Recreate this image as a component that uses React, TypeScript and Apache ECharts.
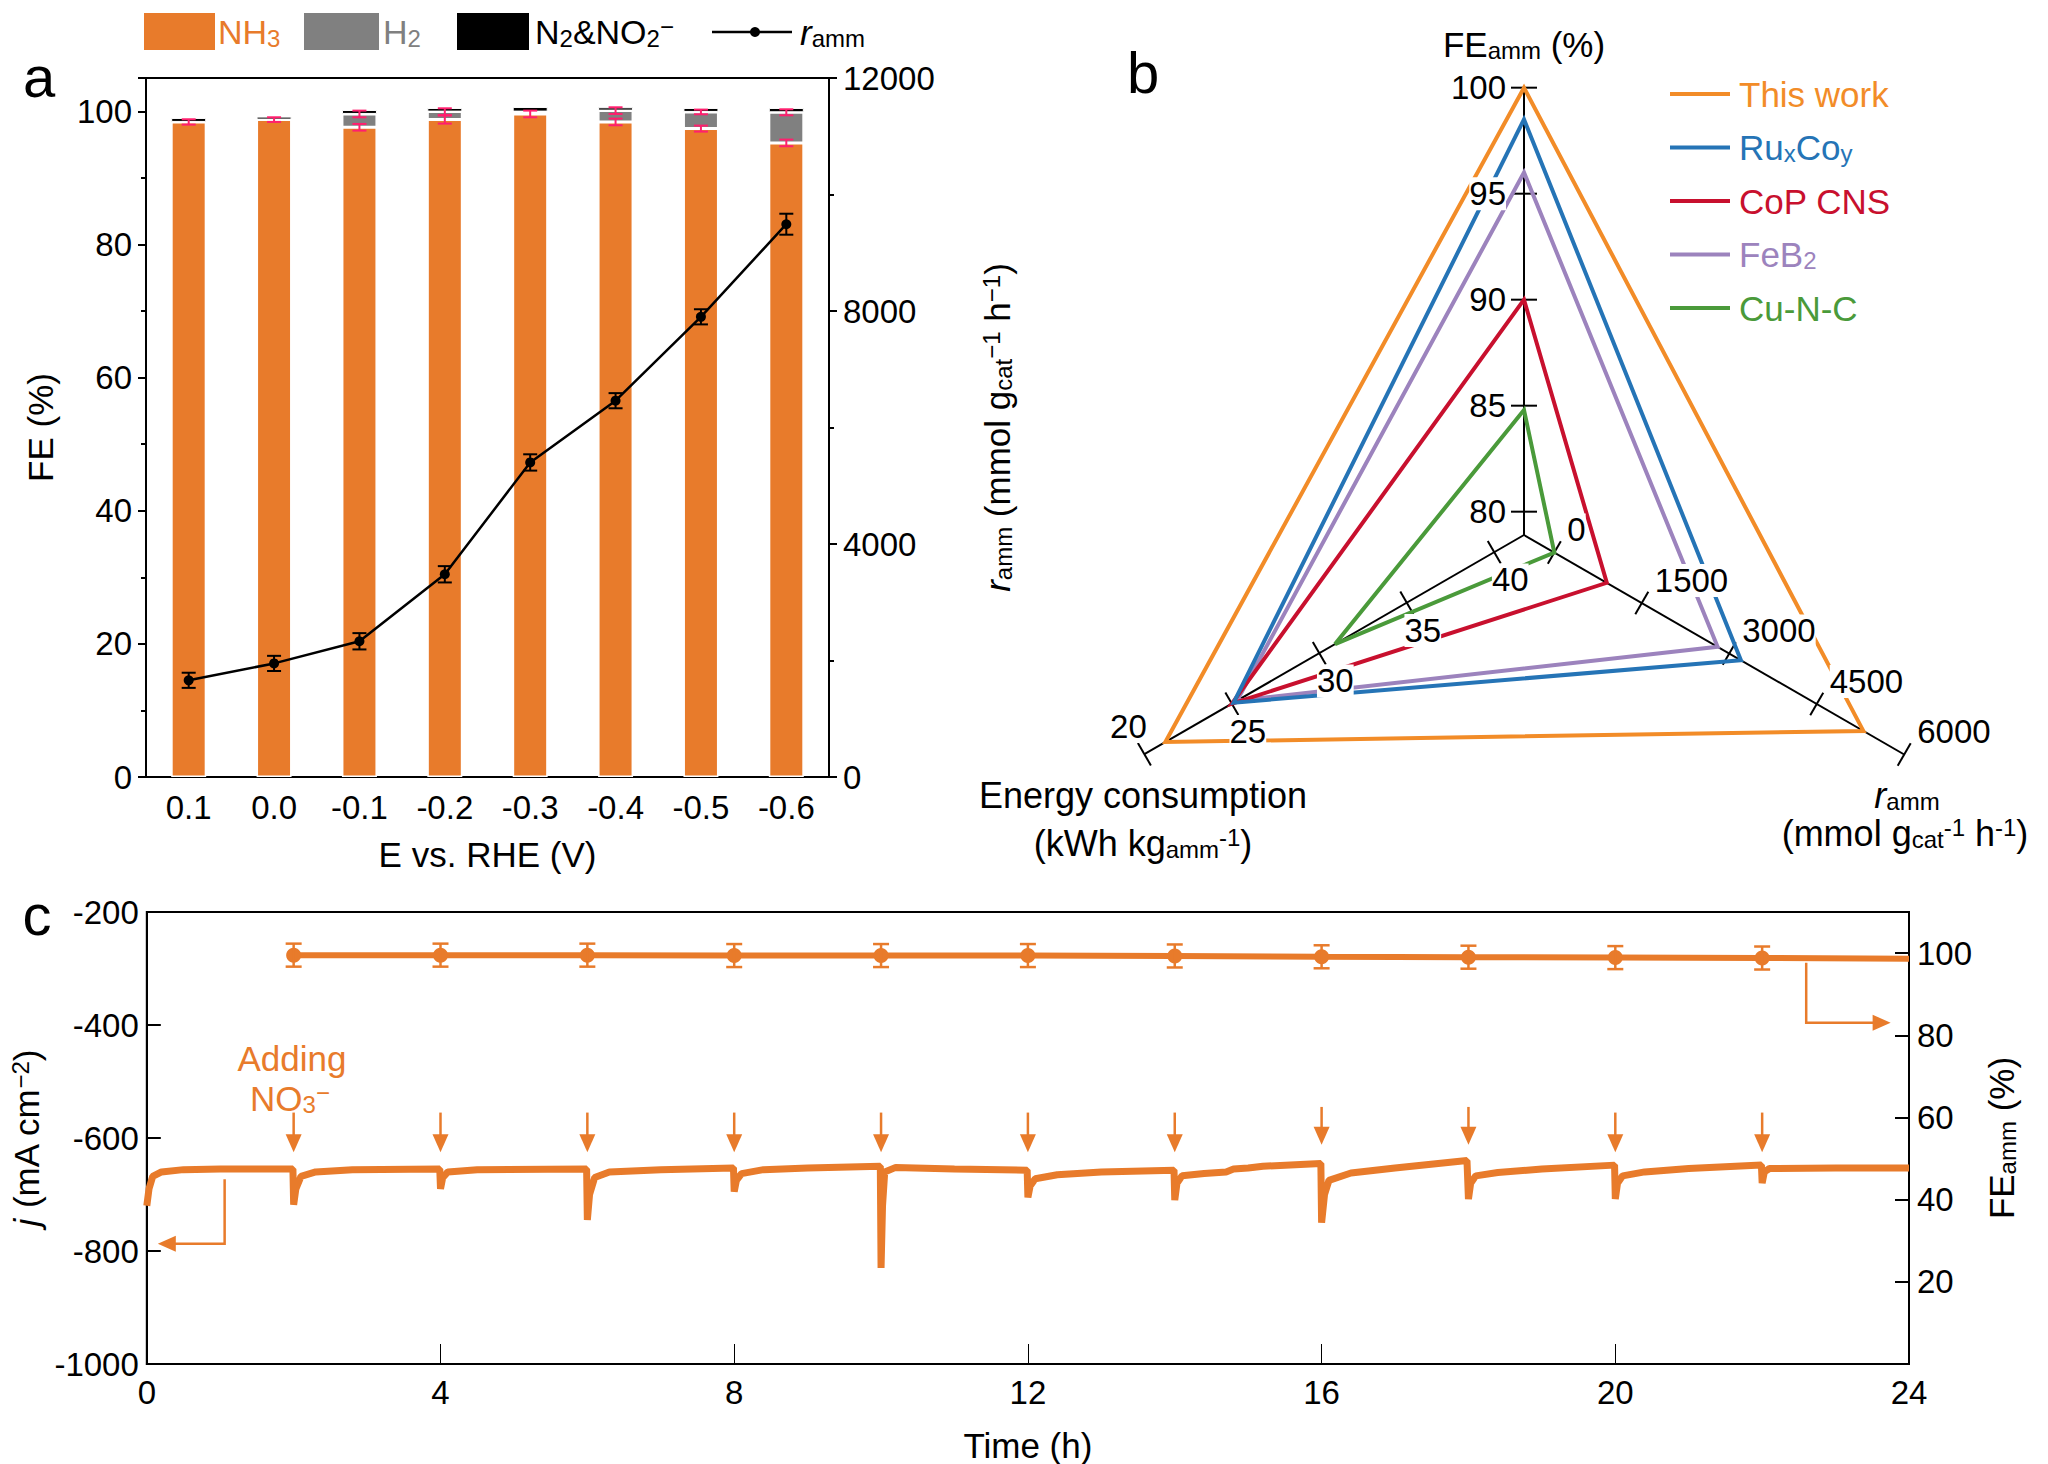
import { useEffect, useRef } from "react";
import * as echarts from "echarts";

const FONT = "Liberation Sans, Arial, sans-serif";
const ORANGE = "#E87B2B";

// panel a
const potentials = ["0.1", "0.0", "-0.1", "-0.2", "-0.3", "-0.4", "-0.5", "-0.6"];
const feNH3 = [98.4, 98.75, 97.6, 98.75, 99.6, 98.4, 97.4, 95.25];
const feH2 = [0, 0, 2.0, 1.2, 0.35, 1.7, 2.5, 4.6];
const feN2 = [0.6, 0.45, 0.6, 0.55, 0.7, 0.5, 0.6, 0.65];
const feNH3Err = [0.4, 0.35, 0.5, 0.6, 0.5, 0.5, 0.45, 0.5];
const feH2Err = [0, 0, 0.5, 0.5, 0, 0.5, 0.35, 0.45];
const rateAmm = [1660, 1950, 2330, 3480, 5400, 6460, 7900, 9490];
const rateErr = [130, 130, 140, 140, 140, 130, 130, 180];

// panel b
const catalysts = ["This work", "RuxCoy", "CoP CNS", "FeB2", "Cu-N-C"];
const catColors = ["#F28C28", "#2574B6", "#C8102E", "#9C83BD", "#4A9A3A"];
const radarFE = [100, 98.5, 90, 96, 84.8];
const radarEnergy = [21.2, 25.1, 25.0, 25.3, 30.9];
const radarRate = [5300, 3200, 900, 2800, 0];
const feTicks = [80, 85, 90, 95, 100];
const energyTicks = [40, 35, 30, 25, 20];
const rateTicks = [0, 1500, 3000, 4500, 6000];

// panel c
const currentTrace: number[][] = [
  [0, -720], [0.03, -690], [0.08, -668], [0.2, -660], [0.5, -656], [1, -655], [1.99, -655],
  [2.0, -718], [2.03, -690], [2.1, -668], [2.3, -660], [2.8, -656], [3.99, -655],
  [4.0, -690], [4.03, -670], [4.1, -660], [4.5, -656], [5.99, -655],
  [6.0, -745], [6.03, -700], [6.1, -670], [6.3, -660], [7, -656], [7.99, -653],
  [8.0, -695], [8.03, -675], [8.1, -663], [8.4, -656], [9, -653], [9.99, -650],
  [10.0, -830], [10.02, -720], [10.05, -660], [10.2, -652], [11, -655], [11.99, -657],
  [12.0, -705], [12.03, -685], [12.1, -672], [12.4, -665], [13, -660], [13.99, -657],
  [14.0, -710], [14.03, -680], [14.1, -667], [14.4, -663], [14.7, -660], [14.8, -655], [15, -653], [15.2, -650], [15.99, -645],
  [16.0, -750], [16.04, -700], [16.1, -675], [16.4, -662], [17, -653], [17.98, -640],
  [18.0, -708], [18.03, -680], [18.1, -667], [18.4, -661], [19, -655], [19.99, -648],
  [20.0, -708], [20.03, -680], [20.1, -667], [20.4, -660], [21, -654], [21.99, -648],
  [22.0, -680], [22.03, -660], [22.1, -654], [23, -653], [24, -653],
];
const feTimes = [2, 4, 6, 8, 10, 12, 14, 16, 18, 20, 22];
const feAmm = [99.5, 99.5, 99.5, 99.4, 99.4, 99.4, 99.3, 99.1, 99.0, 98.9, 98.8];
const feAmmEnd = 98.6;
const feAmmErr = 2.8;
const arrowTimes = [2, 4, 6, 8, 10, 12, 14, 16, 18, 20, 22];
const arrowTop = [-555, -555, -555, -555, -555, -555, -555, -545, -545, -555, -555];
const arrowTip = [-625, -625, -625, -625, -625, -625, -625, -612, -612, -625, -625];

const CX = 1524, CY = 535;
const feDist = (v: number) => ((v - 78.9) / 5) * 106;
const enDist = (v: number) => ((41.7 - v) / 5) * 101;
const raDist = (v: number) => ((v + 520) / 1500) * 101;
const angles = [90, 210, 330].map((a) => (a * Math.PI) / 180);
const polar = (d: number, k: number) => [d * Math.cos(angles[k]), d * Math.sin(angles[k])];

const sub = { fontSize: 24, verticalAlign: "bottom" as const, padding: [12, 0, 0, 0] };
const sup = { fontSize: 24, verticalAlign: "top" as const, padding: [0, 0, 12, 0] };
const plain = (v: number) => String(v);

function buildOption(): any {
  const axisText = { fontFamily: FONT, fontSize: 33, color: "#000", formatter: plain };
  const nameText = { fontFamily: FONT, fontSize: 35, color: "#000" };
  const black = { lineStyle: { color: "#000", width: 2 } };

  const radarAxes = [
    { ticks: feTicks, dist: feDist, end: 100 },
    { ticks: energyTicks, dist: enDist, end: 20 },
    { ticks: rateTicks, dist: raDist, end: 6000 },
  ];

  return {
    animation: false,
    textStyle: { fontFamily: FONT },
    grid: [
      { left: 146, top: 78, width: 683, height: 699, show: true, borderColor: "#000", borderWidth: 2 },
      { left: 141, top: 912, width: 1768, height: 457, show: true, borderColor: "#000", borderWidth: 2 },
      { left: 989, top: 0, width: 1059, height: 1070 },
    ],
    xAxis: [
      {
        gridIndex: 0, type: "category", data: potentials, axisLine: black, axisTick: { show: false },
        axisLabel: { fontFamily: FONT, fontSize: 33, color: "#000", margin: 14 },
        name: "E vs. RHE (V)", nameLocation: "middle", nameGap: 60, nameTextStyle: nameText,
      },
      {
        gridIndex: 1, type: "value", min: 0, max: 24, interval: 4, axisLine: black,
        axisTick: { inside: true, length: 20, lineStyle: { color: "#000", width: 1 } },
        axisLabel: { ...axisText, margin: 12 }, splitLine: { show: false },
        name: "Time (h)", nameLocation: "middle", nameGap: 64, nameTextStyle: nameText,
      },
      { gridIndex: 2, type: "value", min: 989 - CX, max: 2048 - CX, show: false },
    ],
    yAxis: [
      {
        gridIndex: 0, type: "value", min: 0, max: 105, interval: 20, axisLine: { show: true, ...black },
        axisTick: { show: true, length: 8, lineStyle: { color: "#000", width: 2 } },
        minorTick: { show: true, splitNumber: 2, length: 5, lineStyle: { color: "#000", width: 2 } },
        axisLabel: { ...axisText, showMaxLabel: false, margin: 14 }, splitLine: { show: false },
        name: "FE (%)", nameLocation: "middle", nameGap: 88, nameRotate: 90, nameTextStyle: nameText,
      },
      {
        gridIndex: 0, type: "value", min: 0, max: 12000, interval: 4000, position: "right", axisLine: { show: true, ...black },
        axisTick: { show: true, length: 8, lineStyle: { color: "#000", width: 2 } },
        minorTick: { show: true, splitNumber: 2, length: 5, lineStyle: { color: "#000", width: 2 } },
        axisLabel: { ...axisText, margin: 14 }, splitLine: { show: false },
        name: "{i|r}{s|amm} (mmol g{s|cat}{p|−1} h{p|−1})", nameLocation: "middle", nameGap: 150, nameRotate: 90,
        nameTextStyle: { ...nameText, rich: { i: { fontStyle: "italic", fontSize: 35 }, s: sub, p: sup } },
      },
      {
        gridIndex: 1, type: "value", min: -1000, max: -200, interval: 200, axisLine: black,
        axisTick: { inside: true, length: 14, lineStyle: { color: "#000", width: 2 } },
        axisLabel: { ...axisText, margin: 8 }, splitLine: { show: false },
        name: "{i|j} (mA cm{p|−2})", nameLocation: "middle", nameGap: 96, nameRotate: 90,
        nameTextStyle: { ...nameText, rich: { i: { fontStyle: "italic", fontSize: 35 }, p: sup } },
      },
      {
        gridIndex: 1, type: "value", min: 0, max: 110, interval: 20, position: "right", axisLine: { show: true, ...black },
        axisTick: { inside: true, length: 14, lineStyle: { color: "#000", width: 2 } },
        axisLabel: { ...axisText, margin: 8, showMinLabel: false, showMaxLabel: false }, splitLine: { show: false },
        name: "FE{s|amm} (%)", nameLocation: "middle", nameGap: 74, nameRotate: 90,
        nameTextStyle: { ...nameText, rich: { s: sub } },
      },
      { gridIndex: 2, type: "value", min: CY - 1070, max: CY, show: false },
    ],
    series: [
      // panel a bars
      { type: "bar", stack: "fe", xAxisIndex: 0, yAxisIndex: 0, barWidth: 35, data: feNH3,
        itemStyle: { color: ORANGE, borderColor: "#fff", borderWidth: 1.5 } },
      { type: "bar", stack: "fe", xAxisIndex: 0, yAxisIndex: 0, barWidth: 35, data: feH2,
        itemStyle: { color: "#808080", borderColor: "#fff", borderWidth: 1.5 } },
      { type: "bar", stack: "fe", xAxisIndex: 0, yAxisIndex: 0, barWidth: 35, data: feN2,
        itemStyle: { color: "#000", borderColor: "#fff", borderWidth: 1 } },
      {
        type: "custom", xAxisIndex: 0, yAxisIndex: 0, z: 5,
        data: potentials.flatMap((_, i) => {
          const out = [[i, feNH3[i] - feNH3Err[i], feNH3[i] + feNH3Err[i]]];
          const top = feNH3[i] + feH2[i];
          if (feH2Err[i] > 0) out.push([i, top - feH2Err[i], top + feH2Err[i]]);
          return out;
        }),
        renderItem: (_p: any, api: any) => errBar(api, 7, "#FF1F6E", 2),
      },
      {
        type: "line", xAxisIndex: 0, yAxisIndex: 1, data: rateAmm, z: 6, symbol: "circle", symbolSize: 10,
        lineStyle: { color: "#000", width: 2.5 }, itemStyle: { color: "#000" },
      },
      {
        type: "custom", xAxisIndex: 0, yAxisIndex: 1, z: 6,
        data: rateAmm.map((v, i) => [i, v - rateErr[i], v + rateErr[i]]),
        renderItem: (_p: any, api: any) => errBar(api, 7, "#000", 2),
      },
      // panel c
      {
        type: "line", xAxisIndex: 1, yAxisIndex: 2, data: currentTrace, showSymbol: false,
        lineStyle: { color: ORANGE, width: 7 },
      },
      {
        type: "line", xAxisIndex: 1, yAxisIndex: 3, symbol: "circle", symbolSize: 15,
        data: [...feTimes.map((t, i) => [t, feAmm[i]]), { value: [24, feAmmEnd], symbol: "none" }],
        lineStyle: { color: ORANGE, width: 6 }, itemStyle: { color: ORANGE },
      },
      {
        type: "custom", xAxisIndex: 1, yAxisIndex: 3, z: 4,
        data: feTimes.map((t, i) => [t, feAmm[i] - feAmmErr, feAmm[i] + feAmmErr]),
        renderItem: (_p: any, api: any) => errBar(api, 8, ORANGE, 2.5),
      },
      {
        type: "custom", xAxisIndex: 1, yAxisIndex: 2, z: 4,
        data: arrowTimes.map((t, i) => [t, arrowTop[i], arrowTip[i]]),
        renderItem: (_p: any, api: any) => {
          const a = api.coord([api.value(0), api.value(1)]);
          const b = api.coord([api.value(0), api.value(2)]);
          return {
            type: "group",
            children: [
              { type: "line", shape: { x1: a[0], y1: a[1], x2: b[0], y2: b[1] - 14 }, style: { stroke: ORANGE, lineWidth: 2.5 } },
              { type: "polygon", shape: { points: [[b[0] - 8, b[1] - 18], [b[0] + 8, b[1] - 18], [b[0], b[1]]] }, style: { fill: ORANGE } },
            ],
          };
        },
      },
      {
        type: "custom", xAxisIndex: 1, yAxisIndex: 2, z: 4,
        data: [[1.06, -673, -787, 0.15], [22.6, -290, -396, 23.75]],
        renderItem: (_p: any, api: any) => {
          const a = api.coord([api.value(0), api.value(1)]);
          const b = api.coord([api.value(0), api.value(2)]);
          const c = api.coord([api.value(3), api.value(2)]);
          const dir = c[0] > b[0] ? 1 : -1;
          return {
            type: "group",
            children: [
              { type: "polyline", shape: { points: [a, b, [c[0] - dir * 14, c[1]]] }, style: { stroke: ORANGE, lineWidth: 2.5, fill: "none" } },
              { type: "polygon", shape: { points: [[c[0] - dir * 18, c[1] - 8], [c[0] - dir * 18, c[1] + 8], c] }, style: { fill: ORANGE } },
            ],
          };
        },
      },
      // panel b axes
      {
        type: "custom", xAxisIndex: 2, yAxisIndex: 4, z: 1, data: [[0], [1], [2]],
        renderItem: (p: any, api: any) => {
          const k = p.dataIndex;
          const ax = radarAxes[k];
          const o = api.coord([0, 0]);
          const e = api.coord(polar(ax.dist(ax.end), k));
          const children: any[] = [{ type: "line", shape: { x1: o[0], y1: o[1], x2: e[0], y2: e[1] }, style: { stroke: "#000", lineWidth: 2 } }];
          const px = k === 0 ? 1 : -Math.sin(angles[k]);
          const py = k === 0 ? 0 : Math.cos(angles[k]);
          ax.ticks.forEach((t) => {
            const c = api.coord(polar(ax.dist(t), k));
            const len = 13;
            children.push({
              type: "line",
              shape: { x1: c[0] - px * len, y1: c[1] + py * len, x2: c[0] + px * len, y2: c[1] - py * len },
              style: { stroke: "#000", lineWidth: 2 },
            });
          });
          return { type: "group", children };
        },
      },
      ...catalysts.map((name, i) => ({
        type: "custom", name, xAxisIndex: 2, yAxisIndex: 4, z: 2 + (catalysts.length - i) * 0.1,
        data: [[radarFE[i], radarEnergy[i], radarRate[i]]],
        renderItem: (_p: any, api: any) => {
          const pts = [feDist(api.value(0)), enDist(api.value(1)), raDist(api.value(2))].map((d, k) => api.coord(polar(d, k)));
          return { type: "polygon", shape: { points: pts }, style: { fill: "none", stroke: catColors[i], lineWidth: 4 } };
        },
      })),
      {
        type: "custom", xAxisIndex: 2, yAxisIndex: 4, z: 3, data: [[0], [1], [2]],
        renderItem: (p: any, api: any) => {
          const k = p.dataIndex;
          const ax = radarAxes[k];
          const children: any[] = [];
          ax.ticks.forEach((t, j) => {
            const c = api.coord(polar(ax.dist(t), k));
            let x = c[0], y = c[1], align = "center";
            if (k === 0) { x -= 18; align = "right"; }
            else if (k === 1) {
              const s = j === ax.ticks.length - 1 ? -1 : 1;
              x += s * 0.5 * 32; y += s * 0.866 * 32;
            } else { x += 0.5 * 26; y -= 0.866 * 26; align = "left"; }
            children.push({
              type: "text", x, y,
              style: { text: String(t), fill: "#000", font: `33px ${FONT}`, align, verticalAlign: "middle", backgroundColor: "#fff" },
            });
          });
          return { type: "group", children };
        },
      },
    ],
    graphic: [
      ...panelLabel("a", 39, 76), ...panelLabel("b", 1143, 72), ...panelLabel("c", 37, 914),
      // panel a legend
      { type: "rect", shape: { x: 144, y: 13, width: 71, height: 37 }, style: { fill: ORANGE } },
      { type: "text", x: 218, y: 32, style: { text: "NH{s|3}", fill: ORANGE, font: `34px ${FONT}`, verticalAlign: "middle", rich: { s: { ...sub, fill: ORANGE } } } },
      { type: "rect", shape: { x: 304, y: 13, width: 75, height: 37 }, style: { fill: "#808080" } },
      { type: "text", x: 383, y: 32, style: { text: "H{s|2}", fill: "#808080", font: `34px ${FONT}`, verticalAlign: "middle", rich: { s: { ...sub, fill: "#808080" } } } },
      { type: "rect", shape: { x: 457, y: 13, width: 72, height: 37 }, style: { fill: "#000" } },
      { type: "text", x: 535, y: 32, style: { text: "N{s|2}&NO{s|2}{p|−}", fill: "#000", font: `34px ${FONT}`, verticalAlign: "middle", rich: { s: sub, p: sup } } },
      { type: "line", shape: { x1: 712, y1: 32, x2: 792, y2: 32 }, style: { stroke: "#000", lineWidth: 2.5 } },
      { type: "circle", shape: { cx: 755, cy: 32, r: 5 }, style: { fill: "#000" } },
      { type: "text", x: 800, y: 32, style: { text: "{i|r}{s|amm}", fill: "#000", font: `34px ${FONT}`, verticalAlign: "middle", rich: { i: { fontStyle: "italic", fontSize: 35 }, s: sub } } },
      // panel b legend
      ...catalysts.flatMap((name, i) => {
        const y = 94 + i * 53.5;
        const label = name === "RuxCoy" ? "Ru{s|x}Co{s|y}" : name === "FeB2" ? "FeB{s|2}" : name;
        return [
          { type: "line", shape: { x1: 1670, y1: y, x2: 1730, y2: y }, style: { stroke: catColors[i], lineWidth: 4 } },
          { type: "text", x: 1739, y, style: { text: label, fill: catColors[i], font: `35px ${FONT}`, verticalAlign: "middle", rich: { s: { ...sub, fill: catColors[i] } } } },
        ];
      }),
      // panel b axis titles
      { type: "text", x: 1524, y: 44, style: { text: "FE{s|amm} (%)", fill: "#000", font: `35px ${FONT}`, align: "center", verticalAlign: "middle", rich: { s: sub } } },
      { type: "text", x: 1143, y: 795, style: { text: "Energy consumption", fill: "#000", font: `36px ${FONT}`, align: "center", verticalAlign: "middle" } },
      { type: "text", x: 1143, y: 843, style: { text: "(kWh kg{s|amm}{p|-1})", fill: "#000", font: `36px ${FONT}`, align: "center", verticalAlign: "middle", rich: { s: sub, p: sup } } },
      { type: "text", x: 1907, y: 795, style: { text: "{i|r}{s|amm}", fill: "#000", font: `36px ${FONT}`, align: "center", verticalAlign: "middle", rich: { i: { fontStyle: "italic", fontSize: 36 }, s: sub } } },
      { type: "text", x: 1905, y: 833, style: { text: "(mmol g{s|cat}{p|-1} h{p|-1})", fill: "#000", font: `36px ${FONT}`, align: "center", verticalAlign: "middle", rich: { s: sub, p: sup } } },
      // panel c annotation
      { type: "text", x: 292, y: 1058, style: { text: "Adding", fill: ORANGE, font: `35px ${FONT}`, align: "center", verticalAlign: "middle" } },
      { type: "text", x: 290, y: 1098, style: { text: "NO{s|3}{p|−}", fill: ORANGE, font: `35px ${FONT}`, align: "center", verticalAlign: "middle", rich: { s: { ...sub, fill: ORANGE }, p: { ...sup, fill: ORANGE } } } },
    ],
  };
}

function panelLabel(t: string, x: number, y: number): any[] {
  return [{ type: "text", x, y, style: { text: t, fill: "#000", font: `58px ${FONT}`, align: "center", verticalAlign: "middle" } }];
}

function errBar(api: any, cap: number, color: string, w: number): any {
  const lo = api.coord([api.value(0), api.value(1)]);
  const hi = api.coord([api.value(0), api.value(2)]);
  const st = { stroke: color, lineWidth: w };
  return {
    type: "group",
    children: [
      { type: "line", shape: { x1: lo[0], y1: lo[1], x2: hi[0], y2: hi[1] }, style: st },
      { type: "line", shape: { x1: lo[0] - cap, y1: lo[1], x2: lo[0] + cap, y2: lo[1] }, style: st },
      { type: "line", shape: { x1: hi[0] - cap, y1: hi[1], x2: hi[0] + cap, y2: hi[1] }, style: st },
    ],
  };
}

export default function App() {
  const ref = useRef<HTMLDivElement>(null);
  useEffect(() => {
    document.body.style.margin = "0";
    if (!ref.current) return;
    const chart = echarts.init(ref.current, undefined, { renderer: "svg" });
    chart.setOption(buildOption());
    return () => chart.dispose();
  }, []);
  return <div ref={ref} style={{ width: 2048, height: 1464, background: "#fff" }} />;
}
